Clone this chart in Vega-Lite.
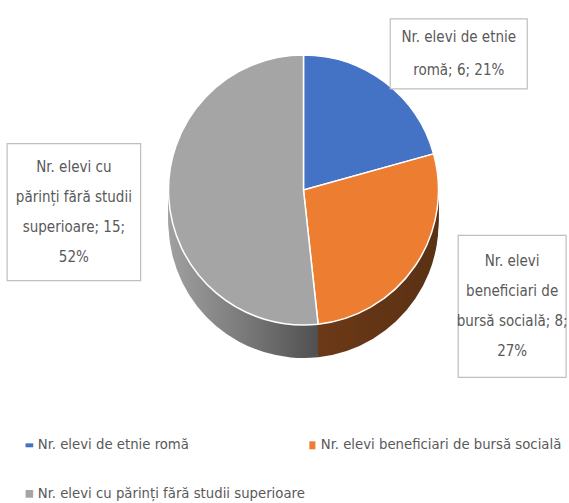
{
  "$schema": "https://vega.github.io/schema/vega-lite/v6.json",
  "width": 531,
  "height": 380,
  "autosize": {"type": "none"},
  "padding": {"left": 38, "top": 0, "right": 0, "bottom": 123},
  "background": "white",
  "config": {"view": {"stroke": null}, "font": "DejaVu Sans Condensed, DejaVu Sans, sans-serif"},
  "data": {
    "values": [
      {"cat": "Nr. elevi de etnie romă", "value": 6, "callout": "Nr. elevi de etnie|romă; 6; 21%"},
      {"cat": "Nr. elevi beneficiari de bursă socială", "value": 8, "callout": "Nr. elevi|beneficiari de|bursă socială; 8;|27%"},
      {"cat": "Nr. elevi cu părinți fără studii superioare", "value": 15, "callout": "Nr. elevi cu|părinți fără studii|superioare; 15;|52%"}
    ]
  },
  "layer": [
    {
      "encoding": {
        "theta": {"field": "value", "type": "quantitative", "stack": true},
        "order": {"field": "value", "type": "quantitative", "sort": "ascending"}
      },
      "layer": [
        {
          "encoding": {
            "color": {
              "condition": [
                {"test": "datum.cat == 'Nr. elevi beneficiari de bursă socială'", "value": {"gradient": "linear", "x1": 0, "x2": 1, "y1": 0, "y2": 0, "stops": [{"offset": 0, "color": "#6e3a17"}, {"offset": 1, "color": "#5a3114"}]}},
                {"test": "datum.cat == 'Nr. elevi de etnie romă'", "value": "#2f4f8a"}
              ],
              "value": {"gradient": "linear", "x1": 0, "x2": 1, "y1": 0, "y2": 0, "stops": [{"offset": 0, "color": "#a0a0a0"}, {"offset": 0.5, "color": "#7a7a7a"}, {"offset": 1, "color": "#505050"}]}
            }
          },
          "layer": [
            {"mark": {"type": "arc", "outerRadius": 135, "yOffset": 33}},
            {"mark": {"type": "arc", "outerRadius": 135, "yOffset": 30}},
            {"mark": {"type": "arc", "outerRadius": 135, "yOffset": 27}},
            {"mark": {"type": "arc", "outerRadius": 135, "yOffset": 24}},
            {"mark": {"type": "arc", "outerRadius": 135, "yOffset": 21}},
            {"mark": {"type": "arc", "outerRadius": 135, "yOffset": 18}},
            {"mark": {"type": "arc", "outerRadius": 135, "yOffset": 15}},
            {"mark": {"type": "arc", "outerRadius": 135, "yOffset": 12}},
            {"mark": {"type": "arc", "outerRadius": 135, "yOffset": 9}},
            {"mark": {"type": "arc", "outerRadius": 135, "yOffset": 6}},
            {"mark": {"type": "arc", "outerRadius": 135, "yOffset": 3}}
          ]
        },
        {
          "mark": {"type": "arc", "outerRadius": 135, "stroke": "white", "strokeWidth": 1.5},
          "encoding": {
            "color": {
              "field": "cat",
              "type": "nominal",
              "scale": {"domain": ["Nr. elevi de etnie romă", "Nr. elevi beneficiari de bursă socială", "Nr. elevi cu părinți fără studii superioare"], "range": ["#4472C4", "#ED7D31", "#A5A5A5"]},
              "legend": {
                "orient": "none",
                "direction": "horizontal",
                "legendX": -16,
                "legendY": 437.5,
                "columns": 2,
                "columnPadding": -5,
                "rowPadding": 33,
                "title": null,
                "symbolType": "M-0.5,-1H0.5V1H-0.5Z",
                "symbolSize": 64,
                "symbolStrokeWidth": 0,
                "labelFontSize": 14.75,
                "labelColor": "#595959",
                "labelLimit": 400,
                "labelOffset": 1
              }
            }
          }
        }
      ]
    },
    {
      "transform": [
        {"window": [{"op": "sum", "field": "value", "as": "cum"}], "sort": [{"field": "value", "order": "ascending"}], "frame": [null, 0]},
        {"joinaggregate": [{"op": "sum", "field": "value", "as": "total"}]},
        {"calculate": "(datum.cum - datum.value/2)/datum.total*2*PI", "as": "mid"},
        {"calculate": "sin(datum.mid)", "as": "lx"},
        {"calculate": "cos(datum.mid)", "as": "ly"},
        {"calculate": "split(datum.callout, '|')", "as": "lines"}
      ],
      "encoding": {
        "x": {"field": "lx", "type": "quantitative", "scale": {"domain": [-1.148, 1.0646]}, "axis": null},
        "y": {"field": "ly", "type": "quantitative", "scale": {"domain": [-0.957, 1.086]}, "axis": null}
      },
      "layer": [
        {
          "mark": {"type": "point", "filled": true, "fill": "white", "stroke": "#BFBFBF", "strokeWidth": 1.2, "opacity": 1, "size": 20164},
          "encoding": {
            "shape": {
              "field": "cat",
              "type": "nominal",
              "scale": {"domain": ["Nr. elevi de etnie romă", "Nr. elevi beneficiari de bursă socială", "Nr. elevi cu părinți fără studii superioare"], "range": ["M-0.965,-0.493H0.965V0.493H-0.965Z", "M-0.76,-1H0.76V1H-0.76Z", "M-0.94,-0.965H0.94V0.965H-0.94Z"]},
              "legend": null
            }
          }
        },
        {
          "transform": [{"filter": "length(datum.lines) == 2"}],
          "mark": {"type": "text", "fontSize": 15, "lineHeight": 33, "dy": -16.5, "color": "#595959", "align": "center", "baseline": "middle"},
          "encoding": {"text": {"field": "lines"}}
        },
        {
          "transform": [{"filter": "length(datum.lines) == 4"}],
          "mark": {"type": "text", "fontSize": 15, "lineHeight": 30, "dy": -45, "color": "#595959", "align": "center", "baseline": "middle"},
          "encoding": {"text": {"field": "lines"}}
        }
      ]
    }
  ]
}
